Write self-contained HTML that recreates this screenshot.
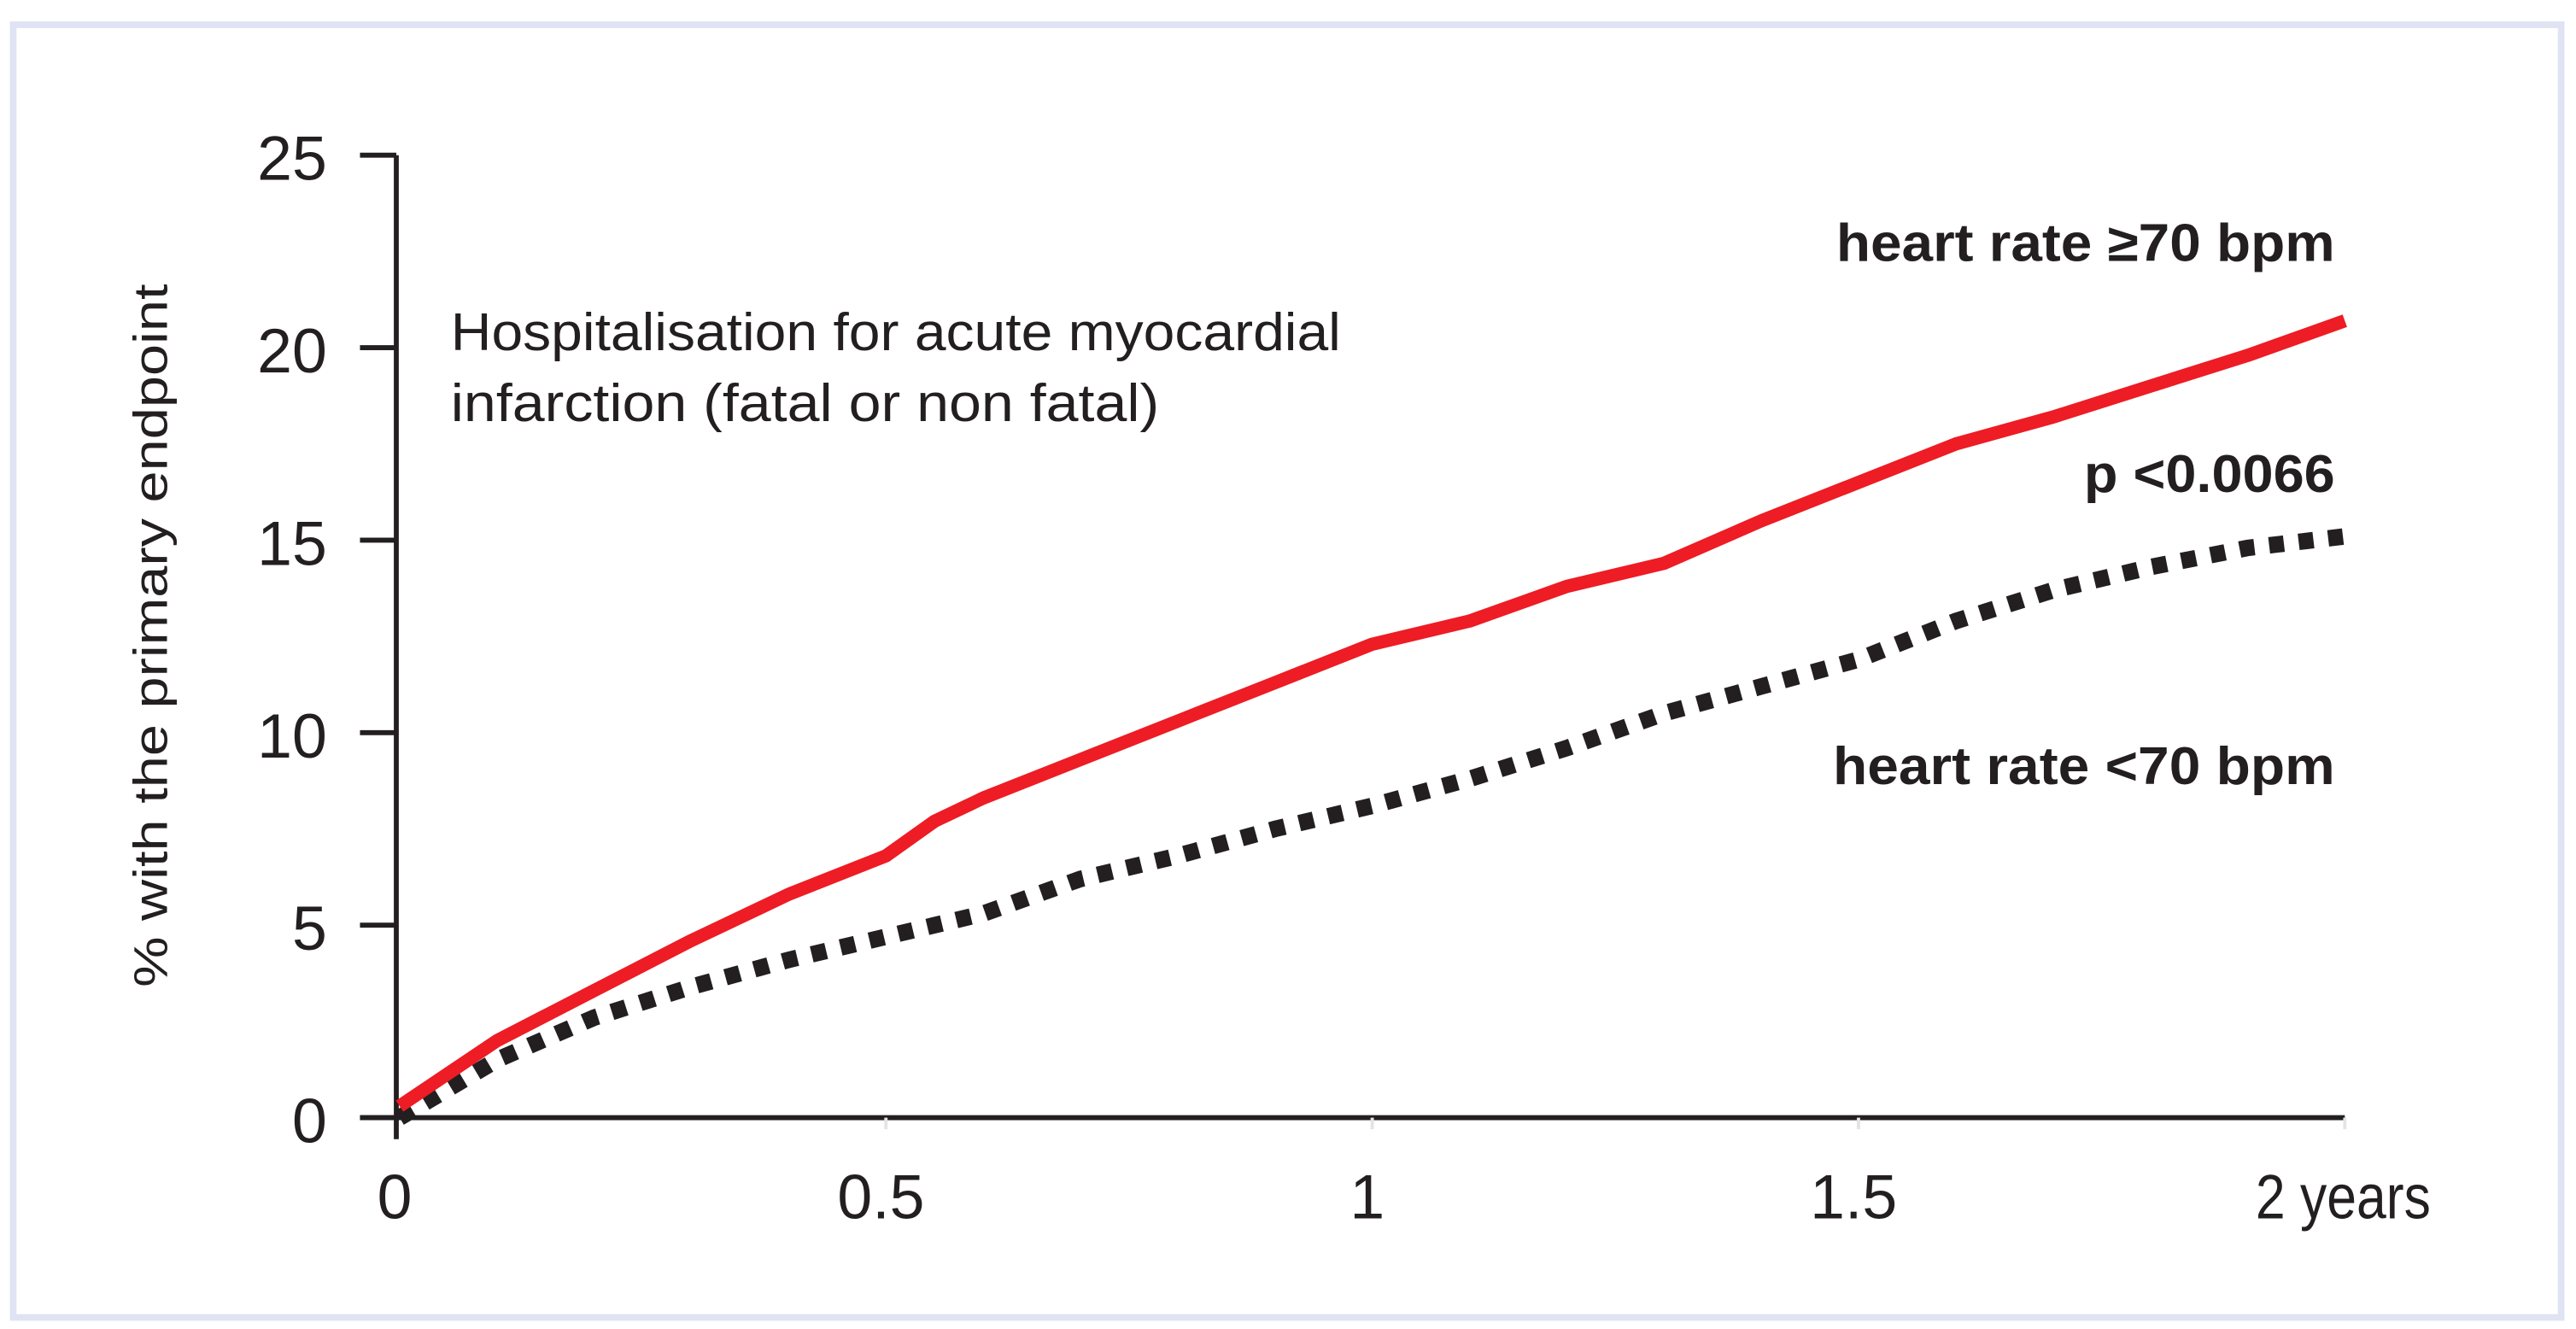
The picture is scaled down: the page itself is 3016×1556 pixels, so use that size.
<!DOCTYPE html>
<html><head><meta charset="utf-8"><style>
html,body{margin:0;padding:0;background:#fff;}
svg{display:block;}
text{font-family:"Liberation Sans Narrow","Liberation Sans",sans-serif;fill:#231f20;}
</style></head><body>
<svg id="chart" width="3016" height="1556" viewBox="0 0 1560 805" preserveAspectRatio="none" xmlns="http://www.w3.org/2000/svg">
<rect x="8" y="15" width="1543" height="783" fill="none" stroke="#dfe3f3" stroke-width="4"/>
<g id="axes"></g>
<g id="series"></g>
<text x="273" y="212" font-size="32" textLength="539" lengthAdjust="spacingAndGlyphs">Hospitalisation for acute myocardial</text>
<text x="273" y="255" font-size="32" textLength="429" lengthAdjust="spacingAndGlyphs">infarction (fatal or non fatal)</text>
<text x="1112" y="158" font-size="32" font-weight="bold" textLength="302" lengthAdjust="spacingAndGlyphs">heart rate ≥70 bpm</text>
<text x="1262" y="298" font-size="32" font-weight="bold" textLength="152" lengthAdjust="spacingAndGlyphs">p &lt;0.0066</text>
<text x="1110" y="475" font-size="32" font-weight="bold" textLength="304" lengthAdjust="spacingAndGlyphs">heart rate &lt;70 bpm</text>
<text transform="translate(101,385) rotate(-90)" text-anchor="middle" font-size="29" font-family="Liberation Sans, sans-serif" textLength="426" lengthAdjust="spacingAndGlyphs">% with the primary endpoint</text>
</svg>
<script>
const xTicks=[0,0.5,1,1.5,2];
const xTickLabels=["0","0.5","1","1.5","2 years"];
const yTicks=[0,5,10,15,20,25];
const yTickLabels=["0","5","10","15","20","25"];
const times=[0,0.1,0.2,0.3,0.4,0.5,0.55,0.6,0.7,0.8,0.9,1.0,1.1,1.2,1.3,1.4,1.5,1.6,1.7,1.8,1.9,2.0];
const highHR=[0.3,2.0,3.3,4.6,5.8,6.8,7.7,8.3,9.3,10.3,11.3,12.3,12.9,13.8,14.4,15.5,16.5,17.5,18.2,19.0,19.8,20.7];
const lowHR=[0,1.5,2.6,3.4,4.1,4.7,5.0,5.3,6.2,6.8,7.5,8.1,8.8,9.6,10.5,11.2,11.9,12.9,13.7,14.3,14.8,15.1];
const X=v=>242+v*(1420-242)/2;
const Y=v=>677-v*(677-94)/25;
const NS="http://www.w3.org/2000/svg";
const axes=document.getElementById('axes'),series=document.getElementById('series');
function mk(tag,attrs,parent){const e=document.createElementNS(NS,tag);for(const k in attrs)e.setAttribute(k,attrs[k]);parent.appendChild(e);return e;}
let a=mk('line',{x1:240,y1:Y(25),x2:240,y2:690,stroke:'#231f20','stroke-width':3},axes);


a=mk('line',{x1:218,y1:677,x2:X(2),y2:677,stroke:'#231f20','stroke-width':3},axes);


yTicks.forEach((v,i)=>{
 const t=mk('line',{x1:218,y1:Y(v),x2:240,y2:Y(v),stroke:'#231f20','stroke-width':3},axes);
 
 
 const l=mk('text',{x:198,y:Y(v)+15,'text-anchor':'end','font-size':38},axes);
 l.textContent=yTickLabels[i];
 
 
});
xTicks.forEach((v,i)=>{
 if(i>0){const t=mk('line',{x1:X(v),y1:677,x2:X(v),y2:684,stroke:'#e4e4e4','stroke-width':2},axes);
 
 }
 let l;
 if(i==4){l=mk('text',{x:X(v)-54,y:738,'font-size':38,textLength:106,lengthAdjust:'spacingAndGlyphs'},axes);}
 else{l=mk('text',{x:X(v)-3,y:738,'font-size':38,'text-anchor':'middle'},axes);}
 l.textContent=xTickLabels[i];
 
 
});
function path(vals){return vals.map((v,i)=>(i?'L':'M')+X(times[i]).toFixed(1)+','+Y(v).toFixed(1)).join(' ');}
let p=mk('path',{d:path(lowHR),fill:'none',stroke:'#231f20','stroke-width':10,'stroke-dasharray':'9 9'},series);


p=mk('path',{d:path(highHR),fill:'none',stroke:'#ee1c24','stroke-width':8,'stroke-linejoin':'round'},series);


</script>
</body></html>
